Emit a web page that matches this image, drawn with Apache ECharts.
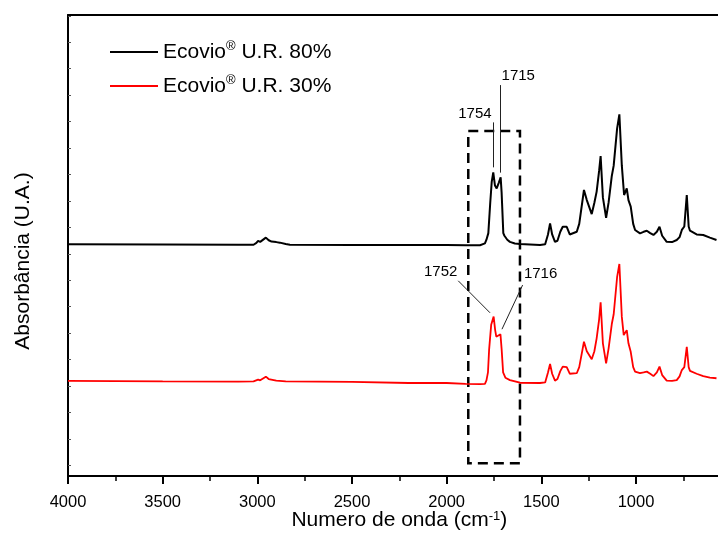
<!DOCTYPE html>
<html>
<head>
<meta charset="utf-8">
<script src="https://cdn.jsdelivr.net/npm/echarts@6/dist/echarts.min.js"></script>
<style>
  html, body { margin: 0; padding: 0; background: #fff; }
  #chart { width: 718px; height: 533px; }
</style>
</head>
<body>
<div id="chart"></div>
<script>
// FTIR spectra of Ecovio films conditioned at two relative humidities.
// Wavenumbers in cm^-1, absorbance relative to each spectrum's baseline.
const seriesNames = ['Ecovio® U.R. 80%', 'Ecovio® U.R. 30%'];

const wn80 = [4000, 3500, 3100, 3020, 3005, 2996, 2985, 2955, 2940, 2925, 2900, 2881, 2850, 2828,
  2500, 2000, 1900, 1824, 1798, 1790, 1780, 1770, 1762, 1754, 1745, 1736, 1725, 1715, 1710, 1701,
  1695, 1680, 1666, 1640, 1613, 1507, 1480, 1465, 1454, 1443, 1428, 1415, 1400, 1387, 1378, 1366,
  1350, 1340, 1313, 1300, 1275, 1260, 1234, 1220, 1208, 1195, 1187, 1175, 1158, 1145, 1128, 1118,
  1100, 1088, 1075, 1063, 1049, 1040, 1028, 1015, 1005, 979, 960, 943, 925, 908, 890, 876, 862,
  838, 810, 785, 770, 758, 745, 732, 722, 715, 680, 645, 610, 575];
const abs80 = [0.003, 0.002, 0.001, 0.001, 0.008, 0.016, 0.012, 0.028, 0.018, 0.013, 0.011, 0.009, 0.004, 0.001,
  0.000, 0.000, -0.001, -0.001, 0.006, 0.020, 0.045, 0.160, 0.240, 0.275, 0.225, 0.214, 0.235, 0.256, 0.200, 0.045,
  0.035, 0.020, 0.012, 0.006, 0.004, 0.000, 0.003, 0.040, 0.082, 0.040, 0.012, 0.016, 0.050, 0.069, 0.062, 0.069,
  0.040, 0.042, 0.050, 0.080, 0.208, 0.170, 0.117, 0.160, 0.202, 0.280, 0.336, 0.180, 0.103, 0.160, 0.261, 0.300,
  0.440, 0.494, 0.300, 0.189, 0.214, 0.170, 0.145, 0.080, 0.057, 0.044, 0.050, 0.054, 0.045, 0.038, 0.050, 0.069, 0.035,
  0.012, 0.011, 0.019, 0.030, 0.057, 0.070, 0.189, 0.070, 0.054, 0.040, 0.038, 0.028, 0.019];

const wn30 = [4000, 3500, 3100, 3020, 2996, 2985, 2955, 2940, 2900, 2850,
  2500, 2200, 2000, 1900, 1824, 1798, 1790, 1782, 1776, 1765, 1752, 1744, 1738, 1728, 1716, 1710, 1702,
  1690, 1666, 1613, 1507, 1480, 1465, 1454, 1443, 1428, 1415, 1400, 1387, 1378, 1366,
  1350, 1340, 1313, 1300, 1275, 1260, 1234, 1220, 1208, 1195, 1187, 1175, 1158, 1145, 1128, 1118,
  1100, 1088, 1075, 1065, 1049, 1040, 1028, 1015, 1005, 979, 960, 943, 925, 908, 890, 876, 862,
  838, 810, 785, 770, 758, 745, 732, 722, 715, 680, 645, 610, 575];
const abs30 = [0.008, 0.006, 0.005, 0.006, 0.013, 0.010, 0.024, 0.015, 0.009, 0.006,
  0.004, 0.000, 0.000, -0.003, -0.004, -0.003, 0.010, 0.040, 0.125, 0.220, 0.251, 0.200, 0.175, 0.178, 0.184, 0.130, 0.040,
  0.020, 0.011, 0.001, 0.000, 0.002, 0.040, 0.072, 0.035, 0.009, 0.015, 0.045, 0.062, 0.055, 0.060,
  0.035, 0.030, 0.037, 0.060, 0.156, 0.120, 0.090, 0.120, 0.169, 0.240, 0.305, 0.150, 0.074, 0.130, 0.223, 0.260,
  0.400, 0.450, 0.250, 0.181, 0.200, 0.150, 0.118, 0.060, 0.043, 0.037, 0.040, 0.043, 0.035, 0.026, 0.040, 0.062, 0.030,
  0.009, 0.008, 0.011, 0.025, 0.049, 0.060, 0.137, 0.060, 0.046, 0.035, 0.026, 0.020, 0.018];

// Carbonyl band assignments marked on each spectrum
const peaks80 = [1754, 1715];
const peaks30 = [1752, 1716];

// Vertical stacking of the two spectra
const offset80 = 0.8333;
const offset30 = 0.3116;

const FONT = "'Liberation Sans', Arial, sans-serif";

function stacked(wn, abs, off) {
  return wn.map((w, i) => [w, +(abs[i] + off).toFixed(4)]);
}

const yTicks = [];
for (let i = 0; i <= 17; i++) yTicks.push(+(i * 0.1).toFixed(1));

const leader = { color: '#222', width: 1, type: 'solid' };
const peakLabel = { show: true, position: 'inside', color: '#000', fontSize: 15, fontFamily: FONT };

function note(text, x, y) {
  return { coord: [x, y], value: text, symbol: 'circle', symbolSize: 1,
    itemStyle: { color: 'rgba(0,0,0,0)' },
    label: Object.assign({ formatter: '{c}' }, peakLabel) };
}

const chart = echarts.init(document.getElementById('chart'), null, { renderer: 'canvas' });

chart.setOption({
  animation: false,
  backgroundColor: '#fff',
  grid: { left: 68, right: -12.7, top: 15, bottom: 57, outerBoundsMode: 'none', containLabel: false },
  legend: {
    orient: 'vertical', left: 105, top: 35, itemGap: 10,
    itemWidth: 48, itemHeight: 2, icon: 'rect',
    data: seriesNames,
    formatter: n => n.replace('®', '{sup|®}'),
    textStyle: {
      fontSize: 21, fontFamily: FONT, color: '#000', lineHeight: 24,
      rich: { sup: { fontSize: 13, fontFamily: FONT, verticalAlign: 'top', lineHeight: 14, color: '#000' } }
    }
  },
  xAxis: [{
    type: 'value', inverse: true, min: 500, max: 4000, interval: 500,
    name: 'Numero de onda (cm{sup|-1})', nameLocation: 'middle', nameGap: 34, nameMoveOverlap: false,
    nameTextStyle: {
      fontSize: 21, fontFamily: FONT, color: '#000',
      rich: { sup: { fontSize: 13, fontFamily: FONT, verticalAlign: 'top', color: '#000' } }
    },
    axisLine: { show: true, onZero: false, lineStyle: { color: '#000', width: 2 } },
    axisTick: { show: true, inside: false, length: 8, lineStyle: { color: '#000', width: 2 } },
    minorTick: { show: true, splitNumber: 2, length: 5, lineStyle: { color: '#000', width: 1.5 } },
    axisLabel: { show: true, showMinLabel: false, margin: 18, fontSize: 16.5, fontFamily: FONT, color: '#000',
      formatter: v => String(v) },
    splitLine: { show: false }
  }, {
    type: 'value', inverse: true, min: 500, max: 4000, position: 'top',
    axisLine: { show: true, onZero: false, lineStyle: { color: '#000', width: 2 } },
    axisTick: { show: false }, axisLabel: { show: false }, splitLine: { show: false }
  }],
  yAxis: {
    type: 'value', min: -0.04, max: 1.703,
    axisLine: { show: true, onZero: false, lineStyle: { color: '#000', width: 2 } },
    axisTick: { show: true, inside: true, length: 3, customValues: yTicks, lineStyle: { color: '#555', width: 1 } },
    axisLabel: { show: false },
    splitLine: { show: false }
  },
  graphic: [{
    type: 'text', x: 23, y: 261, rotation: Math.PI / 2,
    style: { text: 'Absorbância (U.A.)', font: "21px 'Liberation Sans', Arial, sans-serif",
      fill: '#000', textAlign: 'center', textVerticalAlign: 'middle' }
  }],
  series: [{
    name: seriesNames[0], type: 'line', showSymbol: false, smooth: false,
    lineStyle: { color: '#000', width: 2 }, itemStyle: { color: '#000' },
    data: stacked(wn80, abs80, offset80),
    markArea: {
      silent: true,
      label: { show: false },
      itemStyle: { color: 'rgba(0,0,0,0)', borderColor: '#000', borderWidth: 2.5, borderType: [10, 6] },
      data: [[{ coord: [1886, 1.264] }, { coord: [1613, 0.008] }]]
    },
    markLine: {
      silent: true, symbol: ['none', 'none'], label: { show: false }, lineStyle: leader,
      data: [
        [{ coord: [peaks80[0], 1.297] }, { coord: [peaks80[0], 1.127] }],
        [{ coord: [peaks80[1], 1.438] }, { coord: [peaks80[1], 1.107] }]
      ]
    },
    markPoint: {
      silent: true,
      data: [note(String(peaks80[0]), 1851, 1.331), note(String(peaks80[1]), 1622, 1.472)]
    }
  }, {
    name: seriesNames[1], type: 'line', showSymbol: false, smooth: false,
    lineStyle: { color: '#ff0000', width: 1.8 }, itemStyle: { color: '#ff0000' },
    data: stacked(wn30, abs30, offset30),
    markLine: {
      silent: true, symbol: ['none', 'none'], label: { show: false }, lineStyle: leader,
      data: [
        [{ coord: [1939, 0.698] }, { coord: [1771, 0.577] }],
        [{ coord: [1599, 0.682] }, { coord: [1708, 0.515] }]
      ]
    },
    markPoint: {
      silent: true,
      data: [note(String(peaks30[0]), 2032, 0.732), note(String(peaks30[1]), 1504, 0.724)]
    }
  }]
});
</script>
</body>
</html>
